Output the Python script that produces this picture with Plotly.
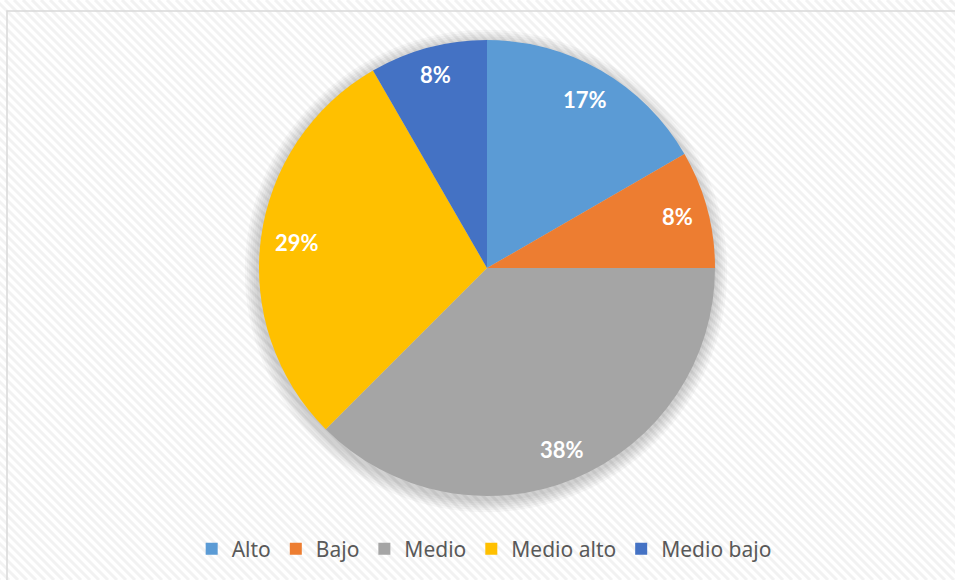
import math
import plotly.graph_objects as go

# Data
categories = ["Alto", "Bajo", "Medio", "Medio alto", "Medio bajo"]
counts = [4, 2, 9, 7, 2]
colors = ["#5B9BD5", "#ED7D31", "#A5A5A5", "#FFC000", "#4472C4"]

W, H = 955, 580

def px_x(p):
    return p / W

def px_y(p):
    return 1 - p / H

cx, cy, r = 487, 268, 228

fig = go.Figure()

# soft shadow (decorative)
for k in range(6, 0, -1):
    rr = r + k * 2.2
    fig.add_trace(go.Pie(
        values=[1], labels=["shadow"], sort=False,
        domain=dict(x=[px_x(cx - rr - 1), px_x(cx + rr - 1)], y=[px_y(cy + rr + 3), px_y(cy - rr + 3)]),
        marker=dict(colors=["rgba(0,0,0,0.03)"], line=dict(width=0)),
        textinfo="none", hoverinfo="skip", showlegend=False,
    ))

fig.add_trace(go.Pie(
    labels=categories, values=counts, sort=False, direction="clockwise", rotation=0,
    domain=dict(x=[px_x(cx - r), px_x(cx + r)], y=[px_y(cy + r), px_y(cy - r)]),
    marker=dict(colors=colors, line=dict(width=0)),
    textinfo="none",
    showlegend=True,
))

# percentage labels placed "inside end" (computed from the data)
total = sum(counts)
annotations = []
cum = 0
for v in counts:
    frac = v / total
    mid = (cum + frac / 2) * 2 * math.pi
    cum += frac
    txt = f"{round(frac * 100)}%"
    hw = 6.8 * len(txt)
    hh = 9
    rc = r - 15 - (hw * abs(math.sin(mid)) + hh * abs(math.cos(mid)))
    x = cx + rc * math.sin(mid)
    y = cy - rc * math.cos(mid)
    annotations.append(dict(x=px_x(x), y=px_y(y), xref="paper", yref="paper",
                            text=f"<b>{txt}</b>", showarrow=False,
                            xanchor="center", yanchor="middle",
                            font=dict(family="Lato", size=22, color="white")))

shapes = []
# diagonal stripe background pattern
step = 9
for x0 in range(-H, W + 20, step):
    shapes.append(dict(type="line", xref="paper", yref="paper", layer="below",
                       x0=px_x(x0), y0=px_y(0), x1=px_x(x0 + H), y1=px_y(H),
                       line=dict(color="#f2f2f2", width=3)))
# chart border
shapes.append(dict(type="rect", xref="paper", yref="paper", layer="below",
                   x0=px_x(7), y0=px_y(590), x1=px_x(965), y1=px_y(11),
                   line=dict(color="#d9d9d9", width=1.5), fillcolor="rgba(0,0,0,0)"))

fig.update_layout(
    width=W, height=H,
    margin=dict(l=0, r=0, t=0, b=0),
    paper_bgcolor="white",
    shapes=shapes,
    annotations=annotations,
    legend=dict(orientation="h", x=0.507, xanchor="center", y=px_y(549), yanchor="middle",
                font=dict(family="Noto Sans", size=21, color="#595959"),
                bgcolor="rgba(0,0,0,0)", itemwidth=30, traceorder="normal"),
)

fig.write_html("out.html")
